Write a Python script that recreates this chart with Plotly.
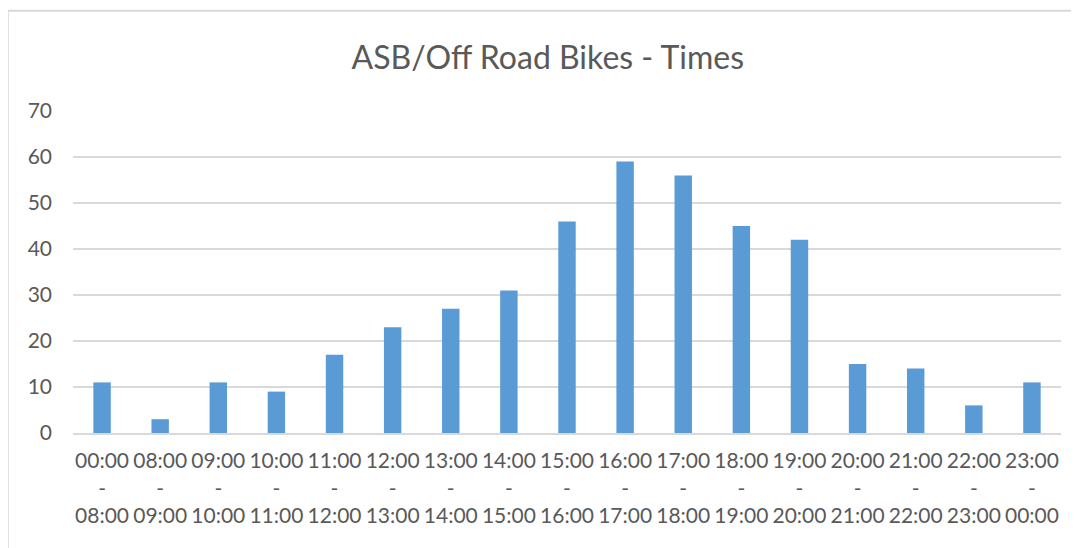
import plotly.graph_objects as go

# Bike counts per time slot
time_slots = ['00:00 - 08:00', '08:00 - 09:00', '09:00 - 10:00', '10:00 - 11:00',
              '11:00 - 12:00', '12:00 - 13:00', '13:00 - 14:00', '14:00 - 15:00',
              '15:00 - 16:00', '16:00 - 17:00', '17:00 - 18:00', '18:00 - 19:00',
              '19:00 - 20:00', '20:00 - 21:00', '21:00 - 22:00', '22:00 - 23:00',
              '23:00 - 00:00']
counts = [11, 3, 11, 9, 17, 23, 27, 31, 46, 59, 56, 45, 42, 15, 14, 6, 11]
y_ticks = [0, 10, 20, 30, 40, 50, 60, 70]

TEXT_COLOR = '#595959'
GRID_COLOR = '#d9d9d9'
BAR_COLOR = '#5b9bd5'

tick_text = [s.replace(' - ', '<br>-<br>') for s in time_slots]

fig = go.Figure()

fig.add_trace(go.Bar(
    x=time_slots,
    y=counts,
    marker_color=BAR_COLOR,
    marker_line_width=0,
    hoverinfo='x+y'
))

# chart border: top and left edges only (screenshot is cropped)
fig.add_shape(type='line', xref='paper', yref='paper',
              x0=-0.066, x1=1.03, y0=1.311, y1=1.311,
              line=dict(color=GRID_COLOR, width=2))
fig.add_shape(type='line', xref='paper', yref='paper',
              x0=-0.066, x1=-0.066, y0=1.311, y1=-0.37,
              line=dict(color=GRID_COLOR, width=2))

# page body adds 8px margin, so figure is sized to fill the rest of the window
fig.update_layout(
    width=1071,
    height=540,
    margin=dict(l=65, r=18, t=103, b=115),
    paper_bgcolor='white',
    plot_bgcolor='white',
    bargap=0.70,
    showlegend=False,
    font=dict(family='Lato, sans-serif', color=TEXT_COLOR, size=21),
    title=dict(
        text='ASB/Off Road Bikes - Times',
        x=0.504,
        xanchor='center',
        y=0.908,
        yanchor='middle',
        font=dict(size=32, color=TEXT_COLOR, family='Lato, sans-serif')
    ),
    xaxis=dict(
        tickmode='array',
        tickvals=time_slots,
        ticktext=tick_text,
        tickangle=0,
        showgrid=False,
        showline=True,
        linecolor=GRID_COLOR,
        linewidth=2,
        ticks='',
        ticklabelstandoff=8,
        tickfont=dict(size=21, color=TEXT_COLOR),
    ),
    yaxis=dict(
        range=[0, 70],
        tickmode='array',
        tickvals=y_ticks,
        showgrid=True,
        gridcolor=GRID_COLOR,
        gridwidth=1.5,
        zeroline=False,
        showline=False,
        ticks='',
        ticklabelstandoff=20,
        tickfont=dict(size=21, color=TEXT_COLOR),
    ),
)

fig.write_html("out.html")
